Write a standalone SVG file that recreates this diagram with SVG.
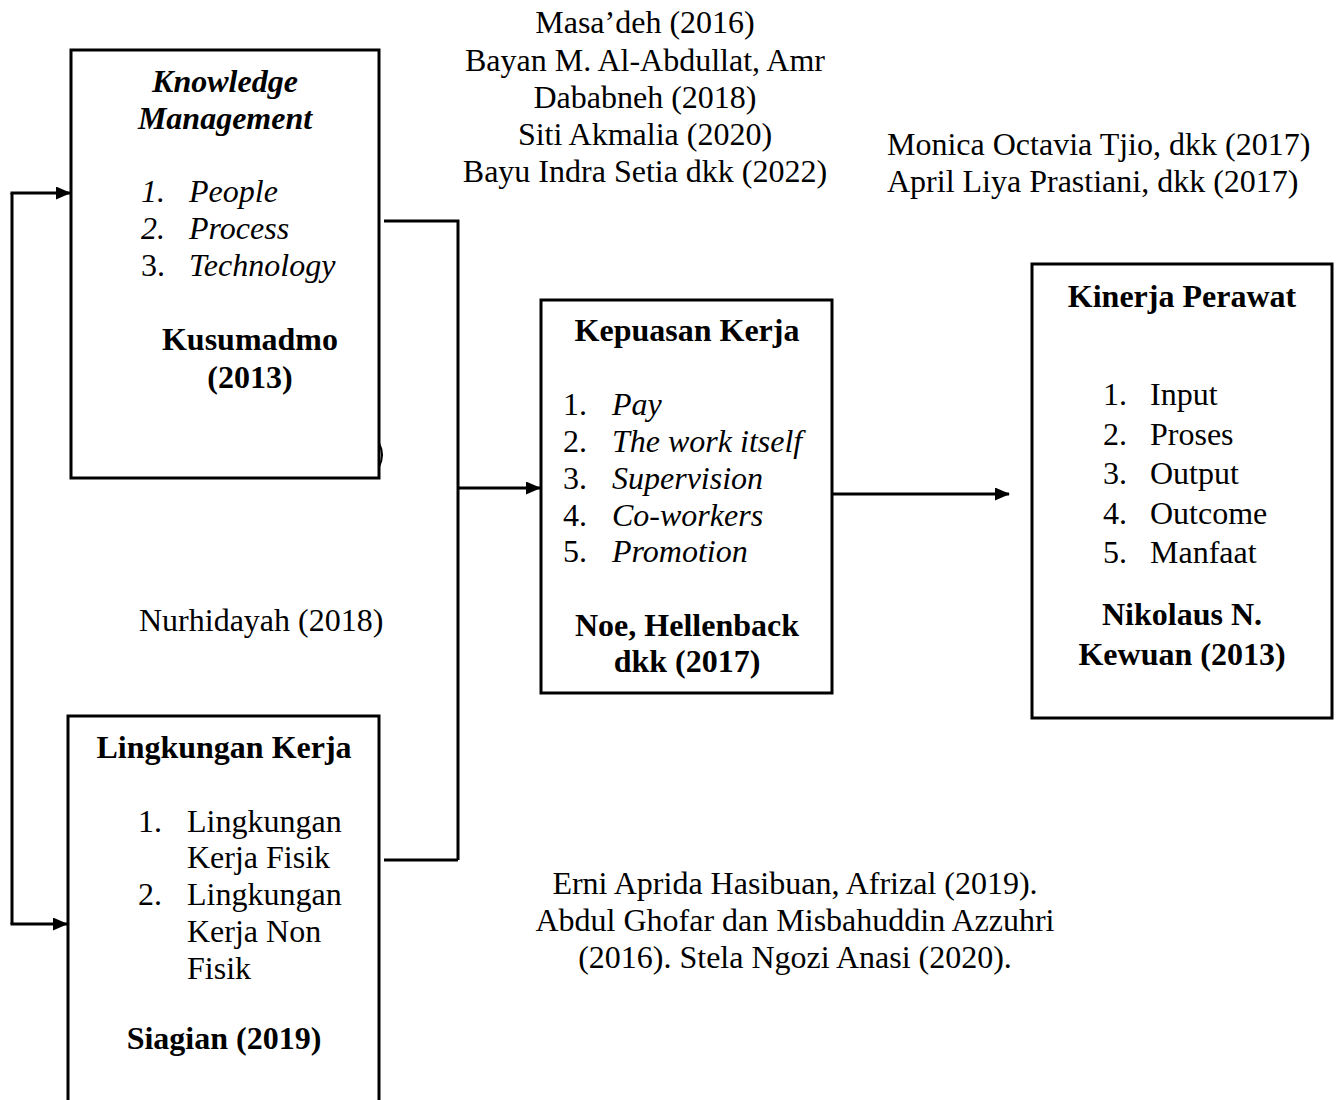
<svg xmlns="http://www.w3.org/2000/svg" width="1338" height="1100" viewBox="0 0 1338 1100">
<style>
text{font-family:"Liberation Serif","Times New Roman",serif;font-size:32px;fill:#000}
.b{font-weight:bold}
.i{font-style:italic}
.bi{font-weight:bold;font-style:italic}
.c{text-anchor:middle}
.box{fill:#fff;stroke:#000;stroke-width:3}
.ln{fill:none;stroke:#000;stroke-width:3}
</style>
<defs>
<marker id="ah" markerWidth="15" markerHeight="13" refX="14" refY="6.5" orient="auto" markerUnits="userSpaceOnUse">
<path d="M0,0 L15,6.5 L0,13 Z" fill="#000"/>
</marker>
</defs>

<g id="refs-top">
<text class="c" x="645" y="33">Masa’deh (2016)</text>
<text class="c" x="645" y="71">Bayan M. Al-Abdullat, Amr</text>
<text class="c" x="645" y="108">Dababneh (2018)</text>
<text class="c" x="645" y="145">Siti Akmalia (2020)</text>
<text class="c" x="645" y="182">Bayu Indra Setia dkk (2022)</text>
</g>
<g id="refs-right">
<text x="887" y="155">Monica Octavia Tjio, dkk (2017)</text>
<text x="887" y="192">April Liya Prastiani, dkk (2017)</text>
</g>
<g id="refs-left">
<text x="139" y="631">Nurhidayah (2018)</text>
</g>
<g id="refs-bottom">
<text class="c" x="795" y="894">Erni Aprida Hasibuan, Afrizal (2019).</text>
<text class="c" x="795" y="931">Abdul Ghofar dan Misbahuddin Azzuhri</text>
<text class="c" x="795" y="968">(2016). Stela Ngozi Anasi (2020).</text>
</g>

<g id="connectors">
<path class="ln" d="M384,221 H458 V860"/>
<path class="ln" d="M384,860 H458"/>
<path class="ln" d="M458,488 H540" marker-end="url(#ah)"/>
<path class="ln" d="M832,494 H1009" marker-end="url(#ah)"/>
<path class="ln" d="M12,193 V924"/>
<path class="ln" d="M10.5,193 H70" marker-end="url(#ah)"/>
<path class="ln" d="M10.5,924 H67" marker-end="url(#ah)"/>
</g>

<g id="node-knowledge">
<rect class="box" x="71" y="50" width="308" height="428"/>
<path d="M379,443 Q385,455 379,467" fill="none" stroke="#000" stroke-width="2"/>
<text class="bi c" x="225" y="92">Knowledge</text>
<text class="bi c" x="225" y="129">Management</text>
<text class="i" x="141" y="202">1.</text><text class="i" x="189" y="202">People</text>
<text class="i" x="141" y="239">2.</text><text class="i" x="189" y="239">Process</text>
<text x="141" y="276">3.</text><text class="i" x="189" y="276">Technology</text>
<text class="b c" x="250" y="350">Kusumadmo</text>
<text class="b c" x="250" y="388">(2013)</text>
</g>

<g id="node-lingkungan">
<rect class="box" x="68" y="716" width="311" height="400"/>
<text class="b c" x="224" y="758">Lingkungan Kerja</text>
<text x="138" y="832">1.</text><text x="187" y="832">Lingkungan</text>
<text x="187" y="868">Kerja Fisik</text>
<text x="138" y="905">2.</text><text x="187" y="905">Lingkungan</text>
<text x="187" y="942">Kerja Non</text>
<text x="187" y="979">Fisik</text>
<text class="b c" x="224" y="1049">Siagian (2019)</text>
</g>

<g id="node-kepuasan">
<rect class="box" x="541" y="300" width="291" height="393"/>
<text class="b c" x="687" y="341">Kepuasan Kerja</text>
<text x="563" y="415">1.</text><text class="i" x="612" y="415">Pay</text>
<text x="563" y="452">2.</text><text class="i" x="612" y="452">The work itself</text>
<text x="563" y="489">3.</text><text class="i" x="612" y="489">Supervision</text>
<text x="563" y="526">4.</text><text class="i" x="612" y="526">Co-workers</text>
<text x="563" y="562">5.</text><text class="i" x="612" y="562">Promotion</text>
<text class="b c" x="687" y="636">Noe, Hellenback</text>
<text class="b c" x="687" y="672">dkk (2017)</text>
</g>

<g id="node-kinerja">
<rect class="box" x="1032" y="264" width="300" height="454"/>
<text class="b c" x="1182" y="307">Kinerja Perawat</text>
<text x="1103" y="405">1.</text><text x="1150" y="405">Input</text>
<text x="1103" y="445">2.</text><text x="1150" y="445">Proses</text>
<text x="1103" y="484">3.</text><text x="1150" y="484">Output</text>
<text x="1103" y="524">4.</text><text x="1150" y="524">Outcome</text>
<text x="1103" y="563">5.</text><text x="1150" y="563">Manfaat</text>
<text class="b c" x="1182" y="625">Nikolaus N.</text>
<text class="b c" x="1182" y="665">Kewuan (2013)</text>
</g>
</svg>
